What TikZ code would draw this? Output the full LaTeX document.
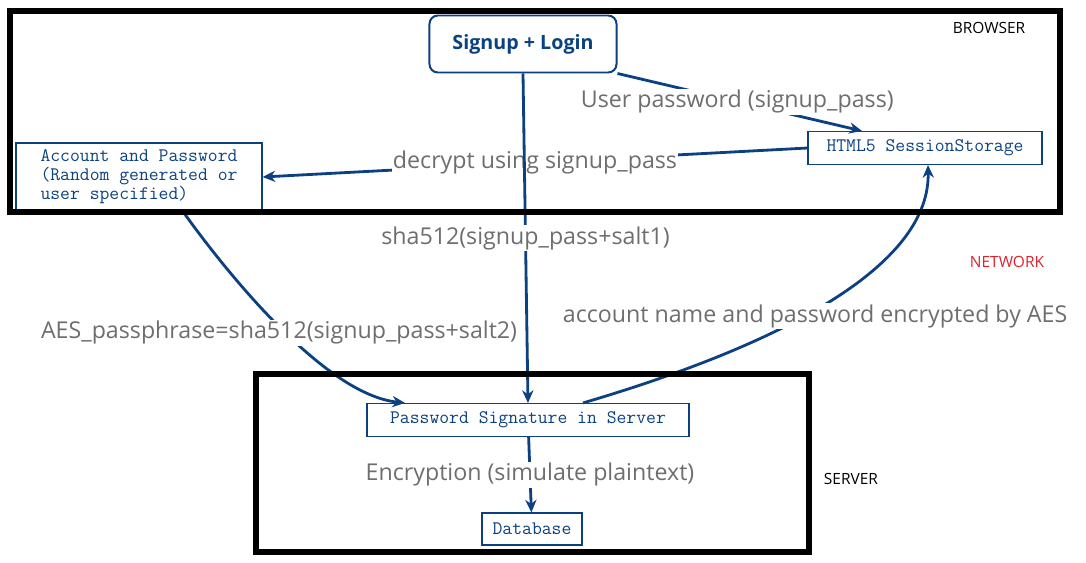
\documentclass[tikz,border=0pt]{standalone}
\usepackage{fontspec}
\setsansfont{Open Sans}
\usetikzlibrary{arrows.meta,positioning}
\definecolor{flowblue}{HTML}{0B4180}
\definecolor{notegray}{HTML}{6E6E6E}
\definecolor{zonered}{HTML}{E0202E}

\begin{document}
\begin{tikzpicture}[x=0.025cm, y=-0.025cm, >={Stealth[length=9pt, width=8pt]},
    font=\sffamily,
    box/.style={draw=flowblue, line width=0.8pt, text=flowblue, inner sep=2pt,
        minimum height=0.825cm, font=\ttfamily\fontsize{13.6}{13.5}\selectfont},
    flow/.style={->, draw=flowblue, line width=2pt},
    note/.style={text=notegray, fill=white, inner sep=1pt,
        font=\sffamily\fontsize{16.5}{18}\selectfont},
    zone/.style={font=\sffamily\fontsize{11}{13}\selectfont},
    frame/.style={draw=black, line width=3.6pt}]
    \useasboundingbox (0,0) rectangle (1086,562);

    % boxes
    \node[draw=flowblue, line width=1.4pt, rounded corners=6pt, text=flowblue,
        minimum width=4.675cm, minimum height=1.425cm,
        font=\sffamily\bfseries\fontsize{14}{16}\selectfont] (signup) at (523,44) {Signup + Login};
    \node[box, align=left, minimum width=6.15cm, minimum height=1.7cm] (account) at (139,177)
        {Account and Password\\(Random generated or\\user specified)};
    \node[box, minimum width=5.85cm] (storage) at (925,148) {HTML5 SessionStorage};
    \node[box, minimum width=8.05cm] (signature) at (528,420) {Password Signature in Server};
    \node[box, minimum width=2.5cm, minimum height=0.8cm] (database) at (532,529) {Database};

    % connectors
    \path[every edge/.style={flow}]
        (signup.south east) edge node[note, pos=0.49] {User password (signup\_pass)} ([xshift=-1.575cm]storage.north)
        (storage.west) edge node[note] {decrypt using signup\_pass} (account.east)
        (signup.south) edge node[note] {sha512(signup\_pass+salt1)} (signature.north)
        (signature) edge node[note] {Encryption (simulate plaintext)} (database);
    \draw[flow] ([xshift=1.1cm]account.south) .. controls +(32,45) and +(-85,-9) ..
        ([xshift=-3.075cm]signature.north)
        node[note, pos=0.52, yshift=-5pt] {AES\_passphrase=sha512(signup\_pass+salt2)};
    \draw[flow] ([xshift=1.375cm]signature.north) .. controls +(217,-64) and +(2,95) ..
        ([xshift=0.075cm]storage.south)
        node[note, pos=0.44, yshift=-4.5pt] {account name and password encrypted by AES};

    % zones
    \draw[frame] (10,11) rectangle (1060,212);
    \draw[frame] (256,374) rectangle (809,552);
    \node[zone] (browser) at (989,28) {BROWSER};
    \node[zone, text=zonered] (network) at (1007,262) {NETWORK};
    \node[zone] (server) at (851,479) {SERVER};
\end{tikzpicture}
\end{document}
